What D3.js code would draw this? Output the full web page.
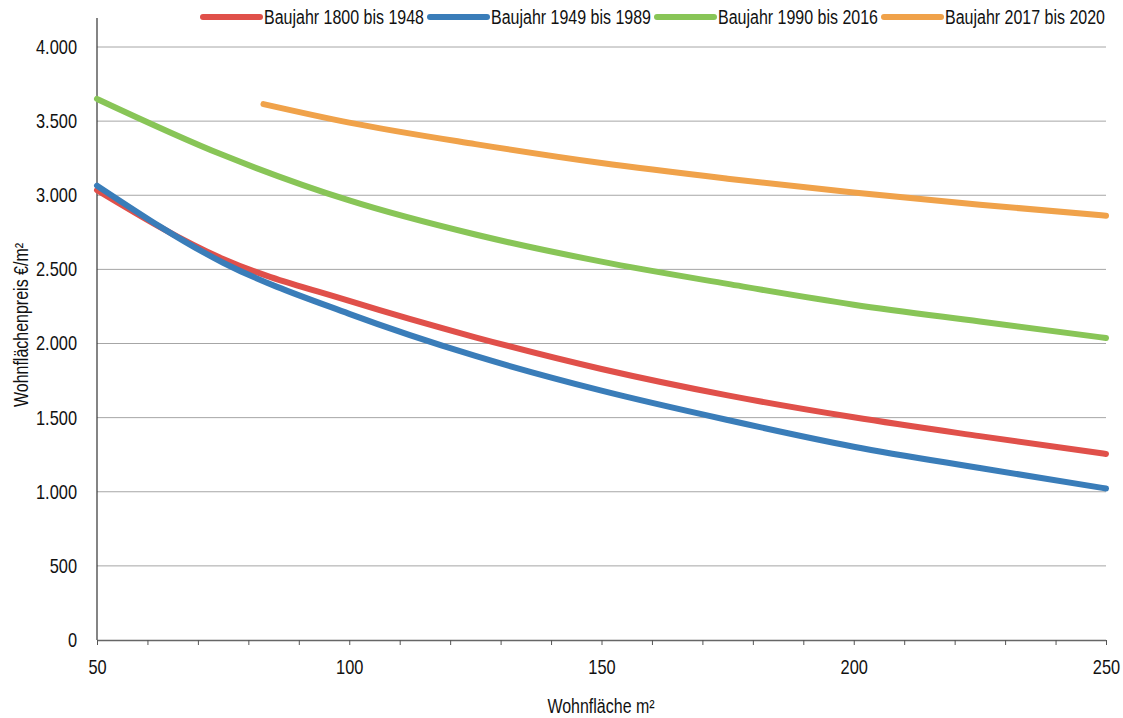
<!DOCTYPE html>
<html><head><meta charset="utf-8">
<script src="https://cdn.jsdelivr.net/npm/d3@7"></script>
<style>
body{margin:0;background:#fff;}
text{font-family:"Liberation Sans",Arial,sans-serif;fill:#111;}
</style></head>
<body><svg id="c" width="1123" height="718"></svg>
<script>
const xTicks = [50, 100, 150, 200, 250];
const yTicks = [0, 500, 1000, 1500, 2000, 2500, 3000, 3500, 4000];
const seriesNames = ["Baujahr 1800 bis 1948", "Baujahr 1949 bis 1989", "Baujahr 1990 bis 2016", "Baujahr 2017 bis 2020"];
const seriesColors = ["#e0504a", "#3a7db9", "#88c557", "#f0a24a"];
const xsMain = [50, 75, 100, 125, 150, 175, 200, 225, 250];
const red = [3035, 2570, 2287, 2042, 1828, 1650, 1502, 1375, 1255];
const blue = [3065, 2545, 2200, 1916, 1682, 1484, 1304, 1160, 1022];
const green = [3650, 3271, 2965, 2735, 2552, 2402, 2262, 2148, 2037];
const xsOrange = [83, 100, 125, 150, 175, 200, 225, 250];
const orange = [3615, 3490, 3345, 3217, 3112, 3018, 2936, 2862];

const K = 0.82; // horizontal condensation to mimic a narrow face
const svg = d3.select("#c");
const x = d3.scaleLinear().domain([50, 250]).range([97, 1106]);
const y = d3.scaleLinear().domain([0, 4000]).range([640, 47]);
const fmt = v => d3.format(",")(v).replace(/,/g, ".");

function narrow(sel) {
  sel.each(function() {
    const t = d3.select(this);
    const xv = +(t.attr("x") || 0);
    t.attr("x", xv / K).attr("transform", `scale(${K},1)`);
  });
}

// gridlines
svg.append("g").selectAll("line").data(yTicks.filter(d => d > 0)).join("line")
  .attr("x1", 97).attr("x2", 1106).attr("y1", d => y(d)).attr("y2", d => y(d))
  .attr("stroke", "#a6a6a6").attr("stroke-width", 1);

// y axis
const ya = svg.append("g").attr("transform", "translate(97,0)")
  .call(d3.axisLeft(y).tickValues(yTicks).tickFormat(fmt).tickSize(0).tickPadding(20));
ya.select(".domain").remove();
ya.selectAll("text").style("font-size", "20px").style("font-family", null).call(narrow);
svg.append("line").attr("x1", 97).attr("x2", 97).attr("y1", 18).attr("y2", 640)
  .attr("stroke", "#333").attr("stroke-width", 1.2);

// x axis
const xa = svg.append("g").attr("transform", "translate(0,640)")
  .call(d3.axisBottom(x).tickValues(d3.range(50, 251, 10)).tickSize(5)
    .tickFormat(d => xTicks.includes(d) ? d : ""));
xa.select(".domain").attr("stroke", "#666").attr("stroke-width", 1.5).attr("d", "M97,0.5H1106");
xa.selectAll(".tick line").attr("stroke", "#555");
xa.selectAll("text").style("font-size", "20px").style("font-family", null)
  .attr("y", 34).attr("dy", null).call(narrow);

// lines
const line = d3.line().curve(d3.curveMonotoneX);
const series = [
  {xs: xsMain, ys: red, c: seriesColors[0]},
  {xs: xsMain, ys: blue, c: seriesColors[1]},
  {xs: xsMain, ys: green, c: seriesColors[2]},
  {xs: xsOrange, ys: orange, c: seriesColors[3]}
];
series.forEach(s => {
  svg.append("path").attr("d", line(s.xs.map((v, i) => [x(v), y(s.ys[i])])))
    .attr("fill", "none").attr("stroke", s.c).attr("stroke-width", 6)
    .attr("stroke-linecap", "round");
});

// legend
const legX = [203, 430, 657, 884];
seriesNames.forEach((n, i) => {
  svg.append("line").attr("x1", legX[i]).attr("x2", legX[i] + 57).attr("y1", 17).attr("y2", 17)
    .attr("stroke", seriesColors[i]).attr("stroke-width", 6).attr("stroke-linecap", "round");
  svg.append("text").attr("x", legX[i] + 61).attr("y", 24).style("font-size", "19.5px").text(n).call(narrow);
});

// axis titles
svg.append("g").attr("transform", "translate(601,713)")
  .append("text").attr("text-anchor", "middle")
  .style("font-size", "19.5px").text("Wohnfläche m²").call(narrow);
svg.append("g").attr("transform", "translate(28,325) rotate(-90)")
  .append("text").attr("text-anchor", "middle")
  .style("font-size", "19.5px").text("Wohnflächenpreis €/m²").call(narrow);
</script></body></html>
